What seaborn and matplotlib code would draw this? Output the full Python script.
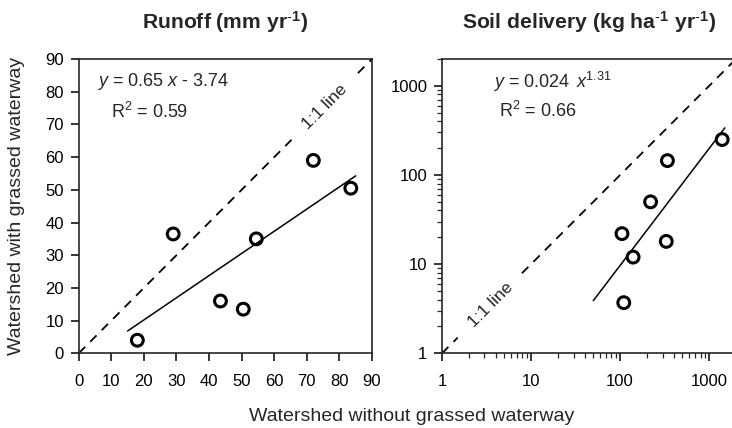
import numpy as np
import pandas as pd
import matplotlib
matplotlib.use("Agg")
import matplotlib.pyplot as plt
import seaborn as sns

# runoff (mm/yr): without vs with grassed waterway
runoff_without = [18, 29, 43.5, 50.5, 54.5, 72, 83.5]
runoff_with = [4, 36.5, 16, 13.5, 35, 59, 50.5]

# soil delivery (kg/ha/yr)
soil_without = [1400, 340, 220, 105, 140, 330, 110]
soil_with = [250, 145, 50, 22, 12, 18, 3.7]

runoff_ticks = [0, 10, 20, 30, 40, 50, 60, 70, 80, 90]
soil_ticks = [1, 10, 100, 1000]

sns.set_style("ticks")
plt.rcParams["font.family"] = ["Liberation Sans", "DejaVu Sans"]
plt.rcParams["mathtext.fontset"] = "custom"
plt.rcParams["mathtext.rm"] = "Liberation Sans"
plt.rcParams["mathtext.it"] = "Liberation Sans:italic"
plt.rcParams["mathtext.bf"] = "Liberation Sans:bold"

fig = plt.figure(figsize=(7.32, 4.28), dpi=100)
ax1 = fig.add_axes([0.1075, 0.1745, 0.4007, 0.6876])
ax2 = fig.add_axes([0.6038, 0.1745, 0.4016, 0.6876])

df1 = pd.DataFrame({"x": runoff_without, "y": runoff_with})
df2 = pd.DataFrame({"x": soil_without, "y": soil_with})

for ax, df in [(ax1, df1), (ax2, df2)]:
    sns.scatterplot(data=df, x="x", y="y", ax=ax, s=72, marker="o",
                    facecolor="none", edgecolor="black", linewidth=2.2, zorder=3)
    for s in ax.spines.values():
        s.set_linewidth(1.2)
        s.set_visible(True)
    ax.tick_params(which="major", direction="out", length=6, width=1.1,
                   labelsize=12, colors="black")
    ax.tick_params(axis="x", which="major", pad=9)
    ax.tick_params(axis="y", which="major", pad=4.5)
    ax.set_xlabel("")
    ax.set_ylabel("")

# left panel: linear fit
slope, icpt = np.polyfit(runoff_without, runoff_with, 1)
xf = np.array([15, 85])
ax1.plot(xf, slope * xf + icpt, color="black", lw=1.1)
ax1.plot([0, 65.7], [0, 65.7], color="black", lw=1.3, ls=(0, (5, 4)))
ax1.plot([85.7, 90], [85.7, 90], color="black", lw=1.3, ls=(0, (5, 4)))
ax1.text(75.5, 75.5, "1:1 line", rotation=45, rotation_mode="anchor",
         ha="center", va="center", fontsize=12.5)
ax1.text(5.6, 83, "$y$ = 0.65 $x$ - 3.74", fontsize=13, va="center")
ax1.text(9.9, 73.8, "R$^2$ = 0.59", fontsize=13, va="center")
ax1.set_xlim(0, 90)
ax1.set_ylim(0, 90)
ax1.set_xticks(runoff_ticks)
ax1.set_yticks(runoff_ticks)
ax1.set_title("Runoff (mm yr$^{\\mathbf{\\text{-}1}}$)", fontsize=15.2,
              fontweight="bold", pad=22)

# right panel: power fit on log-log
b, loga = np.polyfit(np.log10(soil_without), np.log10(soil_with), 1)
xp = np.array([50, 1500])
ax2.plot(xp, 10 ** loga * xp ** b, color="black", lw=1.1)
ax2.plot([1, 1.5], [1, 1.5], color="black", lw=1.3, ls=(0, (5, 4)))
ax2.plot([7.9, 2000], [7.9, 2000], color="black", lw=1.3, ls=(0, (5, 4)))
ax2.text(3.5, 3.5, "1:1 line", rotation=45, rotation_mode="anchor",
         ha="center", va="center", fontsize=12.5)
ax2.text(3.74, 1115, "$y$ = 0.024 $\\,x^{1.31}$", fontsize=13, va="center")
ax2.text(4.37, 525, "R$^2$ = 0.66", fontsize=13, va="center")
ax2.set_xscale("log")
ax2.set_yscale("log")
ax2.set_xlim(1, 2000)
ax2.set_ylim(1, 2000)
ax2.set_xticks(soil_ticks)
ax2.set_yticks(soil_ticks)
ax2.set_xticklabels([str(t) for t in soil_ticks])
ax2.set_yticklabels([str(t) for t in soil_ticks])
ax2.tick_params(which="minor", direction="out", length=3.5, width=0.9)
ax2.set_title("Soil delivery (kg ha$^{\\mathbf{\\text{-}1}}$ yr$^{\\mathbf{\\text{-}1}}$)",
              fontsize=15.2, fontweight="bold", pad=22)

fig.text(0.022, 0.518, "Watershed with grassed waterway", rotation=90,
         ha="center", va="center", fontsize=14)
fig.text(0.563, 0.026, "Watershed without grassed waterway",
         ha="center", va="center", fontsize=14)

fig.savefig("out.png", dpi=100)
